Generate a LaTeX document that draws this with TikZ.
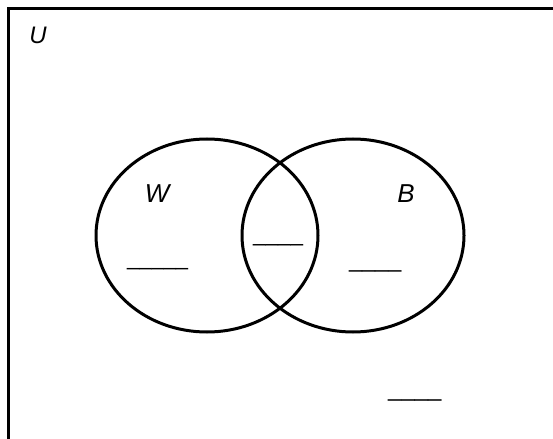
\documentclass[tikz,border=0pt]{standalone}
\usepackage{fontspec}
\setmainfont{Liberation Sans}
\begin{document}
\begin{tikzpicture}[x=1bp,y=-1bp,
  frame/.style={line width=3bp},
  setline/.style={line width=3bp},
  lab/.style={inner sep=0pt,anchor=base,font=\fontsize{26}{30}\selectfont\itshape},
  blank/.style={inner sep=0pt,anchor=base west,font=\fontsize{22}{26}\selectfont},
  blankb/.style={inner sep=0pt,anchor=base west,font=\fontsize{23.5}{27}\selectfont}]
\useasboundingbox (0,0) rectangle (553,439);
\clip (0,0) rectangle (553,439);
\draw[frame] (8.5,8.5) rectangle (570,460);
\draw[setline] (207,235.5) ellipse [x radius=111, y radius=96.5];
\draw[setline] (353,235.5) ellipse [x radius=111, y radius=96.5];
\node[lab,font=\fontsize{24}{28}\selectfont\itshape] (u) at (38,44) {U};
\node[lab] (w) at (157,203) {W};
\node[lab] (b) at (406,203) {B};
\node[blank] (bw) at (127,266) {\_\_\_\_\_};
\node[blank,font=\fontsize{22.5}{26}\selectfont] (bwb) at (253,241.5) {\_\_\_\_};
\node[blankb] (bb) at (349,268) {\_\_\_\_};
\node[blankb,font=\fontsize{24}{28}\selectfont] (bu) at (388,396) {\_\_\_\_};
\end{tikzpicture}
\end{document}
